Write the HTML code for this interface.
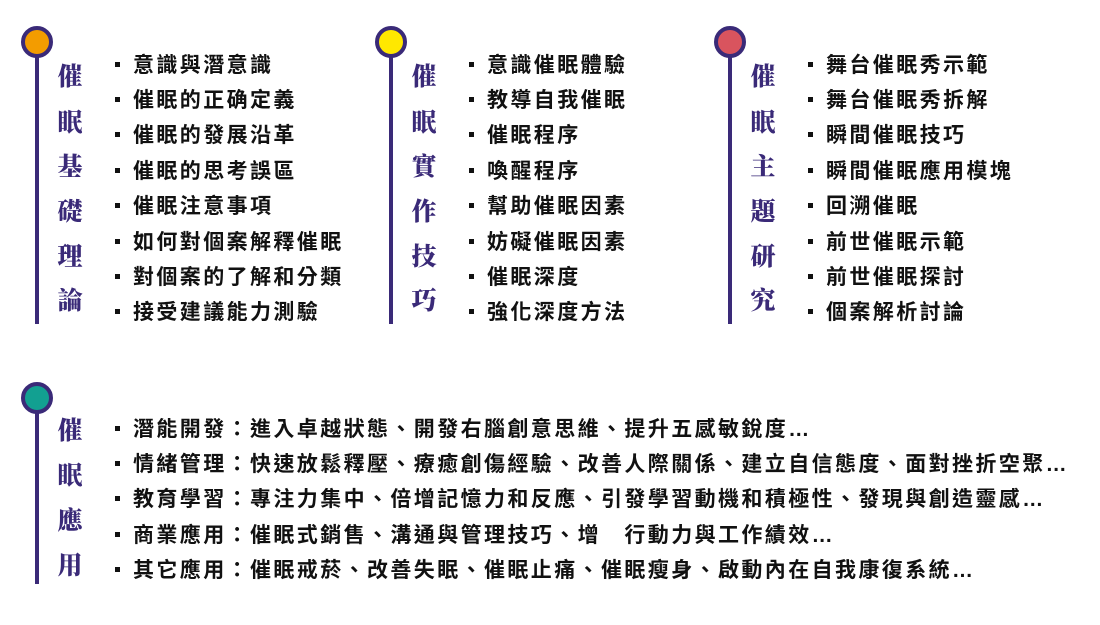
<!DOCTYPE html>
<html><head><meta charset="utf-8"><style>
body{margin:0;width:1100px;height:625px;background:#fff;position:relative;overflow:hidden;font-family:"Liberation Sans","Noto Sans CJK TC",sans-serif}
.c{position:absolute;width:24px;height:24px;border-radius:50%;border:4px solid #3a2a78;box-sizing:content-box}
.l{position:absolute;width:4px;background:#3a2a78}
.t{position:absolute;font-family:"Liberation Serif","Noto Serif CJK SC",serif;font-weight:900;color:#3a2a78;font-size:25px;line-height:24px;width:30px;text-align:center}
.i{position:absolute;font-weight:bold;font-size:21px;letter-spacing:2.4px;color:#111;white-space:nowrap;line-height:24px}
.b{position:absolute;width:5px;height:5px;background:#111}
</style></head><body>
<script>
const r=document.body;
function add(h){r.insertAdjacentHTML('beforeend',h)}
function col(cx,cy,color,len,title,tys,items,bx,iys){
 add(`<div class="c" style="left:${cx-16}px;top:${cy-16}px;background:${color}"></div>`);
 add(`<div class="l" style="left:${cx-2}px;top:${cy+14}px;height:${len}px"></div>`);
 [...title].forEach((ch,k)=>add(`<div class="t" style="left:${cx+18}px;top:${tys[k]-12}px">${ch}</div>`));
 items.forEach((s,k)=>{add(`<div class="b" style="left:${bx-3}px;top:${iys[k]-2}px"></div>`);add(`<div class="i" style="left:${bx+15}px;top:${iys[k]-10}px">${s}</div>`)});
}
const ty6=[78,124,168,213,258,302],iy8=[64,99,134,170,205,241,276,311];
col(37,42,'#f39c00',268,'催眠基礎理論',ty6,['意識與潛意識','催眠的正确定義','催眠的發展沿革','催眠的思考誤區','催眠注意事項','如何對個案解釋催眠','對個案的了解和分類','接受建議能力測驗'],118,iy8);
col(391,42,'#ffe800',268,'催眠實作技巧',ty6,['意識催眠體驗','教導自我催眠','催眠程序','喚醒程序','幫助催眠因素','妨礙催眠因素','催眠深度','強化深度方法'],472,iy8);
col(730,42,'#d9545e',268,'催眠主題研究',ty6,['舞台催眠秀示範','舞台催眠秀拆解','瞬間催眠技巧','瞬間催眠應用模塊','回溯催眠','前世催眠示範','前世催眠探討','個案解析討論'],811,iy8);
col(37,398,'#12a091',172,'催眠應用',[432,477,522,567],['潛能開發：進入卓越狀態、開發右腦創意思維、提升五感敏銳度…','情緒管理：快速放鬆釋壓、療癒創傷經驗、改善人際關係、建立自信態度、面對挫折空聚…','教育學習：專注力集中、倍增記憶力和反應、引發學習動機和積極性、發現與創造靈感…','商業應用：催眠式銷售、溝通與管理技巧、增　行動力與工作績效…','其它應用：催眠戒菸、改善失眠、催眠止痛、催眠瘦身、啟動內在自我康復系統…'],118,[428,463,498,534,569]);
</script>
</body></html>
